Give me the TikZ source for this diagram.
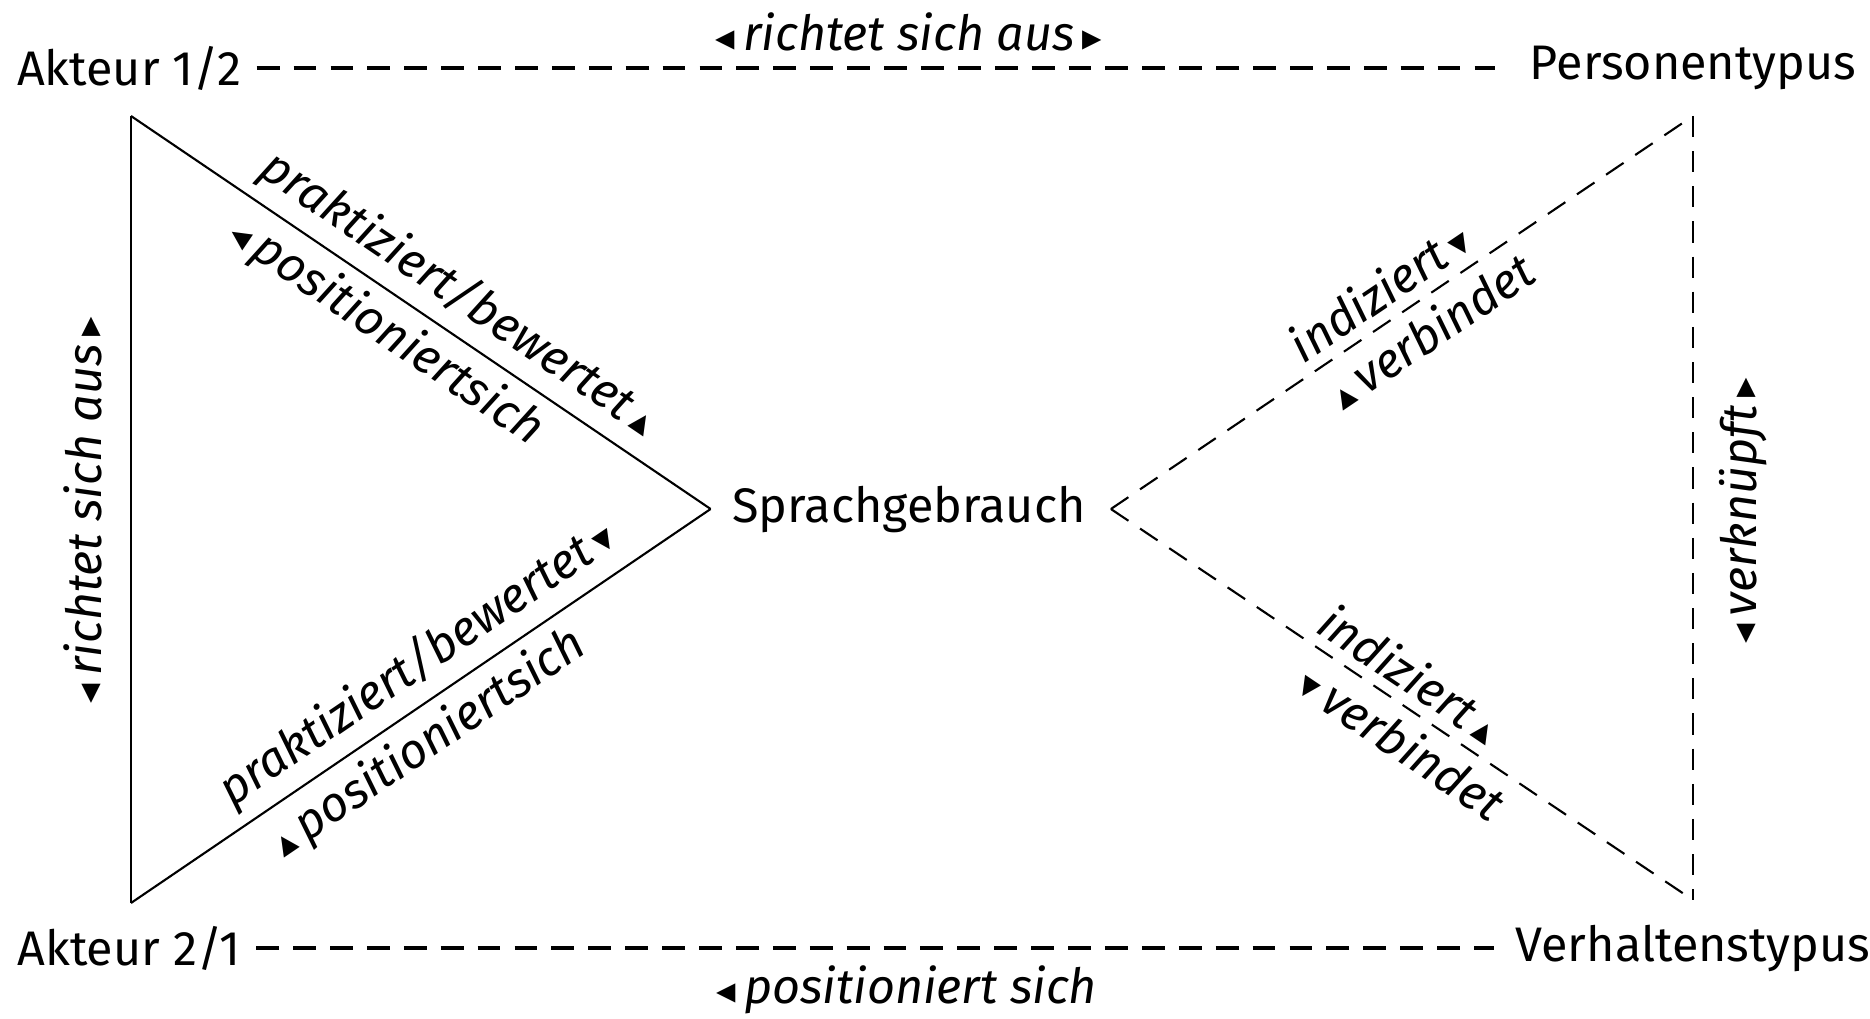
\documentclass[tikz,border=0pt]{standalone}
\usepackage{fontspec}
\setmainfont{Fira Sans}
\newfontfamily\symfont{DejaVu Sans}
\usetikzlibrary{positioning}

% small pointers used in the relation labels
\newcommand{\triL}{{\symfont\fontsize{11}{11}\selectfont ◂}}
\newcommand{\triR}{{\symfont\fontsize{11}{11}\selectfont ▸}}
\newcommand{\triU}{{\symfont\fontsize{11}{11}\selectfont ▴}}
\newcommand{\triD}{{\symfont\fontsize{11}{11}\selectfont ▾}}

\begin{document}
\begin{tikzpicture}[
    lbl/.style={font=\fontsize{13.8}{16}\selectfont, inner sep=2pt},
    rel/.style={font=\fontsize{13.8}{16}\selectfont\itshape, inner sep=2pt},
    edgerel/.style={rel, sloped, inner sep=3pt},
    solidedge/.style={line width=0.6pt},
    dashedge/.style={line width=0.6pt, dash pattern=on 6pt off 4pt},
    axisline/.style={line width=1.1pt, dash pattern=on 6.5pt off 4pt}]

    \useasboundingbox (0,0) rectangle (18.70,10.18);

    % Corner and centre terms
    \node[lbl] (akt12) at (1.29,9.50) {Akteur 1/2};
    \node[lbl] (akt21) at (1.29,0.70) {Akteur 2/1};
    \node[lbl] (pers) at (16.93,9.50) {Personentypus};
    \node[lbl] (verh) at (16.93,0.70) {Verhaltenstypus};
    \node[lbl] (sprache) at (9.09,5.09) {Sprachgebrauch};

    % Triangle corners
    \coordinate (ltop) at (1.31,9.02);
    \coordinate (lbot) at (1.31,1.15);
    \coordinate (lapex) at ([xshift=-4pt]sprache.west);
    \coordinate (rtop) at (16.93,9.02);
    \coordinate (rbot) at (16.93,1.18);
    \coordinate (rapex) at ([xshift=5pt]sprache.east);

    % Horizontal relations
    \draw[axisline,shorten <=0.08cm,shorten >=0.27cm] (akt12) -- (pers);
    \draw[axisline,shorten <=0.08cm,shorten >=0.14cm] (akt21) -- (verh);
    \node[rel] (richtet) at (9.09,9.86) {\triL\,richtet sich aus\,\triR};
    \node[rel] (posbottom) at (9.07,0.28) {\triL\,positioniert sich};

    % Left triangle
    \draw[solidedge] (ltop) -- (lbot);
    \draw[solidedge] (ltop) -- (lapex)
        node[edgerel, pos=0.53, above] (prak1) {praktiziert/bewertet\,\triU}
        node[edgerel, pos=0.475, below] (posi1) {\triL\,positioniertsich};
    \draw[solidedge] (lbot) -- (lapex)
        node[edgerel, pos=0.53, above] (prak2) {praktiziert/bewertet\,\triD}
        node[edgerel, pos=0.48, below] (posi2) {\triU\,positioniertsich};
    \node[rel, rotate=90] (richtetleft) at (0.83,5.08) {\triL\,richtet sich aus\,\triR};

    % Right triangle
    \draw[dashedge] (rapex) -- (rtop)
        node[edgerel, pos=0.49, above] (ind1) {indiziert\,\triD}
        node[edgerel, pos=0.52, below] (verb1) {\triU\,verbindet};
    \draw[dashedge] (rapex) -- (rbot)
        node[edgerel, pos=0.485, above] (ind2) {indiziert\,\triU}
        node[edgerel, pos=0.53, below] (verb2) {\triD\,verbindet};
    \draw[dashedge] (rtop) -- (rbot);
    \node[rel, rotate=90] (verkn) at (17.43,5.07) {\triL\,verknüpft\,\triR};
\end{tikzpicture}
\end{document}
